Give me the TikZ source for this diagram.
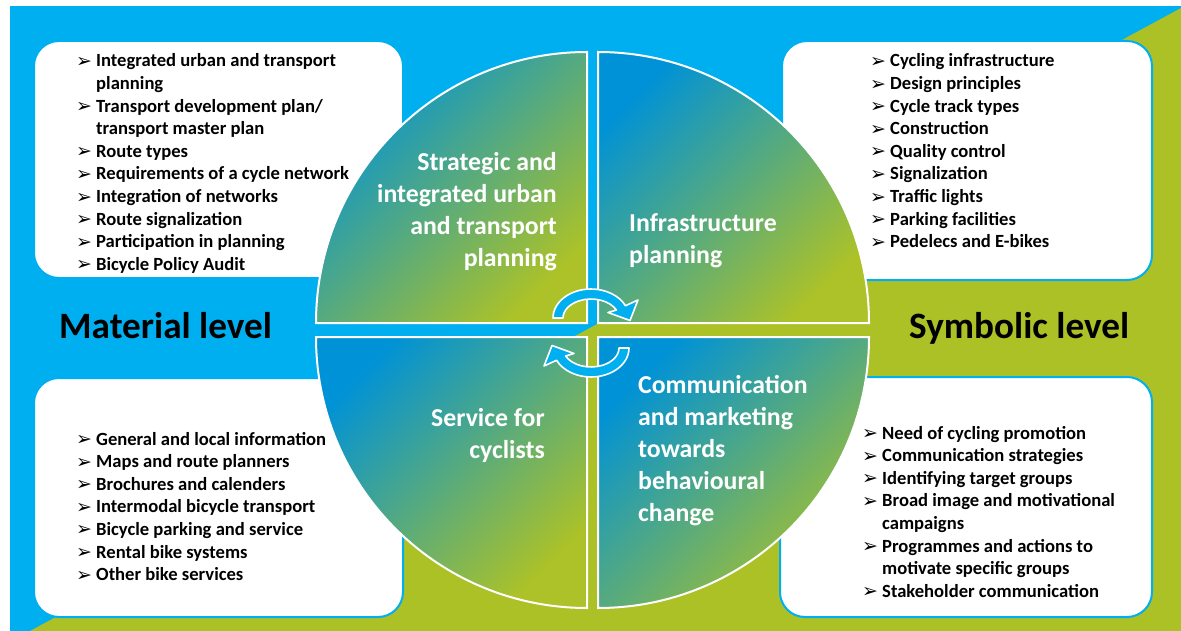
\documentclass[tikz,border=0pt]{standalone}
\usepackage{fontspec}
\setmainfont{Carlito}
\newfontfamily\arrowfont{DejaVu Sans}
\definecolor{bgblue}{RGB}{0,175,239}
\definecolor{bggreen}{RGB}{172,193,38}
\definecolor{qblue}{RGB}{0,146,214}
\definecolor{qgreen}{RGB}{172,194,40}
\newcommand{\lbul}{\makebox[20pt][l]{\raisebox{-0.5pt}{\arrowfont\fontsize{19}{19}\selectfont ➢}}}
\newcommand{\contind}{\hspace*{20pt}}
\tikzset{
  listbox/.style={fill=white, draw=bgblue, line width=2pt, rounded corners=25pt},
  quad/.style={top color=qblue, bottom color=qgreen, shading angle=45, draw=white, line width=2pt},
  listtext/.style={anchor=base west, inner sep=0pt, text=black, font=\bfseries\fontsize{18.6}{22.6}\selectfont},
  quadtext/.style={inner sep=0pt, text=white, font=\bfseries\fontsize{25.8}{32}\selectfont},
  leveltext/.style={anchor=base west, inner sep=0pt, text=black, font=\bfseries\fontsize{37.2}{40}\selectfont},
  cyc/.style={fill=bgblue, draw=white, line width=1.6pt, line join=round}
}
\begin{document}
\begin{tikzpicture}[x=1pt, y=-1pt]
\useasboundingbox (0,0) rectangle (1181,631);
% page and background
\fill[white] (0,0) rectangle (1181,631);
\fill[bgblue] (10,6) rectangle (1181,631);
\fill[bggreen] (30,631) -- (1181,8) -- (1181,631) -- cycle;
% white list boxes
\draw[listbox] (34,41) rectangle (403,278);
\draw[listbox] (782,41) rectangle (1152,280);
\draw[listbox] (34,378) rectangle (403,617);
\draw[listbox] (780,377) rectangle (1152,617);
% lists
\node[listtext] (ltl) at (76,67) {\begin{tabular}[t]{@{}l@{}}
\lbul Integrated urban and transport\\
\contind planning\\
\lbul Transport development plan/\\
\contind transport master plan\\
\lbul Route types\\
\lbul Requirements of a cycle network\\
\lbul Integration of networks\\
\lbul Route signalization\\
\lbul Participation in planning\\
\lbul Bicycle Policy Audit
\end{tabular}};
\node[listtext] (ltr) at (870,67) {\begin{tabular}[t]{@{}l@{}}
\lbul Cycling infrastructure\\
\lbul Design principles\\
\lbul Cycle track types\\
\lbul Construction\\
\lbul Quality control\\
\lbul Signalization\\
\lbul Traffic lights\\
\lbul Parking facilities\\
\lbul Pedelecs and E-bikes
\end{tabular}};
\node[listtext] (lbl) at (76,445) {\begin{tabular}[t]{@{}l@{}}
\lbul General and local information\\
\lbul Maps and route planners\\
\lbul Brochures and calenders\\
\lbul Intermodal bicycle transport\\
\lbul Bicycle parking and service\\
\lbul Rental bike systems\\
\lbul Other bike services
\end{tabular}};
\node[listtext] (lbr) at (862,439) {\begin{tabular}[t]{@{}l@{}}
\lbul Need of cycling promotion\\
\lbul Communication strategies\\
\lbul Identifying target groups\\
\lbul Broad image and motivational\\
\contind campaigns\\
\lbul Programmes and actions to\\
\contind motivate specific groups\\
\lbul Stakeholder communication
\end{tabular}};
% level labels
\node[leveltext] (mat) at (59,338) {Material level};
\node[leveltext] (sym) at (909,338) {Symbolic level};
% quadrants
\path[quad] (587,323) -- (316,323) arc[start angle=180, end angle=270, radius=271] -- cycle;
\path[quad] (598,323) -- (598,52) arc[start angle=270, end angle=360, radius=271] -- cycle;
\path[quad] (587,337) -- (587,608) arc[start angle=90, end angle=180, radius=271] -- cycle;
\path[quad] (598,337) -- (869,337) arc[start angle=0, end angle=90, radius=271] -- cycle;
% quadrant texts
\node[quadtext, anchor=base east] (qtl) at (557,171) {\begin{tabular}[t]{@{}r@{}}Strategic and\\integrated urban\\and transport\\planning\end{tabular}};
\node[quadtext, anchor=base west] (qtr) at (629,232) {\begin{tabular}[t]{@{}l@{}}Infrastructure\\planning\end{tabular}};
\node[quadtext, anchor=base east] (qbl) at (545,426) {\begin{tabular}[t]{@{}r@{}}Service for\\cyclists\end{tabular}};
\node[quadtext, anchor=base west] (qbr) at (638,393) {\begin{tabular}[t]{@{}l@{}}Communication\\and marketing\\towards\\behavioural\\change\end{tabular}};
% cycle arrows
\draw[cyc] (553,318) arc[start angle=180, end angle=335, x radius=38, y radius=29]
  -- (638,300) -- (630,320.5) -- (608,312.5) -- (616.4,310)
  arc[start angle=335, end angle=180, x radius=28, y radius=19] -- cycle;
\begin{scope}[rotate around={180:(591,333)}]
\draw[cyc] (553,318) arc[start angle=180, end angle=335, x radius=38, y radius=29]
  -- (638,300) -- (630,320.5) -- (608,312.5) -- (616.4,310)
  arc[start angle=335, end angle=180, x radius=28, y radius=19] -- cycle;
\end{scope}
\end{tikzpicture}
\end{document}
